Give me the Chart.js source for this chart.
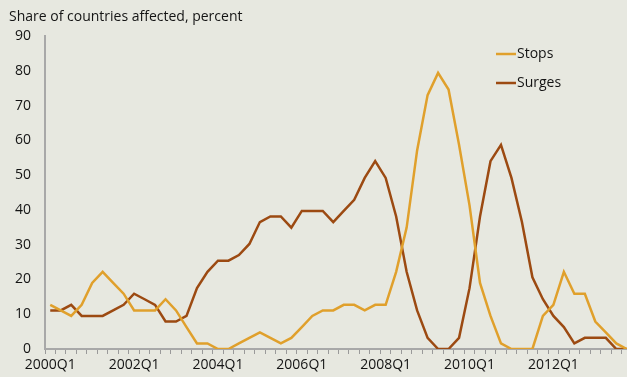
<!DOCTYPE html>
<html>
<head>
<meta charset="utf-8">
<script src="https://cdn.jsdelivr.net/npm/chart.js@4/dist/chart.umd.min.js"></script>
<style>
  html, body { margin: 0; padding: 0; background: #e7e8e0; overflow: hidden; }
  #wrap { width: 632px; height: 377px; position: relative; }
</style>
</head>
<body>
<div id="wrap"><canvas id="chart"></canvas></div>
<script>
// ---- Data ----
const quarters = [];
for (let y = 2000; y <= 2013; y++) {
  for (let q = 1; q <= 4; q++) quarters.push(y + "Q" + q);
}

const stops = [
  12.7, 11.1, 9.5, 12.7, 19.0, 22.2, 19.0, 15.9, 11.1, 11.1, 11.1, 14.3, 11.1, 6.3,
  1.6, 1.6, 0, 0, 1.6, 3.2, 4.8, 3.2, 1.6, 3.2, 6.3, 9.5, 11.1, 11.1,
  12.7, 12.7, 11.1, 12.7, 12.7, 22.2, 34.9, 57.1, 73.0, 79.4, 74.6, 58.7, 41.3, 19.0,
  9.5, 1.6, 0, 0, 0, 9.5, 12.7, 22.2, 15.9, 15.9, 7.9, 4.8, 1.6, 0
];

const surges = [
  11.1, 11.1, 12.7, 9.5, 9.5, 9.5, 11.1, 12.7, 15.9, 14.3, 12.7, 7.9, 7.9, 9.5,
  17.5, 22.2, 25.4, 25.4, 27.0, 30.2, 36.5, 38.1, 38.1, 34.9, 39.7, 39.7, 39.7, 36.5,
  39.7, 42.9, 49.2, 54.0, 49.2, 38.1, 22.2, 11.1, 3.2, 0, 0, 3.2, 17.5, 38.1,
  54.0, 58.7, 49.2, 36.5, 20.6, 14.3, 9.5, 6.3, 1.6, 3.2, 3.2, 3.2, 0, 0
];

const yTicks = [0, 10, 20, 30, 40, 50, 60, 70, 80, 90];

const FONT = "'Open Sans', sans-serif";
const STOPS_COLOR = "#e0a02c";
const SURGES_COLOR = "#9c4a12";

// ---- Plugins ----
const background = {
  id: "background",
  beforeDraw(chart) {
    const c = chart.ctx;
    c.save();
    c.fillStyle = "#e7e8e0";
    c.fillRect(0, 0, chart.width, chart.height);
    c.restore();
  }
};

const headerAndLegend = {
  id: "headerAndLegend",
  afterDraw(chart) {
    const c = chart.ctx;
    c.save();
    c.fillStyle = "#141414";
    c.font = "14px " + FONT;
    c.textBaseline = "middle";
    c.textAlign = "left";
    c.fillText("Share of countries affected, percent", 9, 17);

    // legend at top right
    const rows = [54, 83];
    chart.data.datasets.forEach((ds, i) => {
      const y = rows[i];
      c.strokeStyle = ds.borderColor;
      c.lineWidth = 2.5;
      c.beginPath();
      c.moveTo(496, y);
      c.lineTo(516, y);
      c.stroke();
      c.fillStyle = "#141414";
      c.fillText(ds.label, 517, y);
    });
    c.restore();
  }
};

// ---- Chart ----
new Chart(document.getElementById("chart"), {
  type: "line",
  data: {
    labels: quarters,
    datasets: [
      { label: "Stops", data: stops, borderColor: STOPS_COLOR, borderWidth: 2.5,
        pointRadius: 0, tension: 0, fill: false },
      { label: "Surges", data: surges, borderColor: SURGES_COLOR, borderWidth: 2.5,
        pointRadius: 0, tension: 0, fill: false }
    ]
  },
  options: {
    responsive: true,
    maintainAspectRatio: false,
    animation: false,
    layout: { padding: { top: 36, right: 0, bottom: 0, left: 0 } },
    plugins: { legend: { display: false }, tooltip: { enabled: false } },
    scales: {
      x: {
        type: "category",
        offset: true,
        grid: { offset: true, drawOnChartArea: false, drawTicks: true,
                tickLength: 5, color: "#9a9a9a", lineWidth: 1 },
        border: { display: true, color: "#a8a8a8", width: 2 },
        ticks: {
          autoSkip: false, maxRotation: 0, padding: 3,
          color: "#141414", font: { family: FONT, size: 14 },
          callback: function (v, i) { return i % 8 === 0 ? quarters[i] : ""; }
        },
        afterFit: (s) => { s.height = 28; }
      },
      y: {
        min: 0, max: 90,
        afterBuildTicks: (s) => { s.ticks = yTicks.map((v) => ({ value: v })); },
        grid: { display: false, drawTicks: false },
        border: { display: true, color: "#a8a8a8", width: 2 },
        ticks: { padding: 14, color: "#141414", font: { family: FONT, size: 14 } },
        afterFit: (s) => { s.width = 45; }
      }
    }
  },
  plugins: [background, headerAndLegend]
});
</script>
</body>
</html>
